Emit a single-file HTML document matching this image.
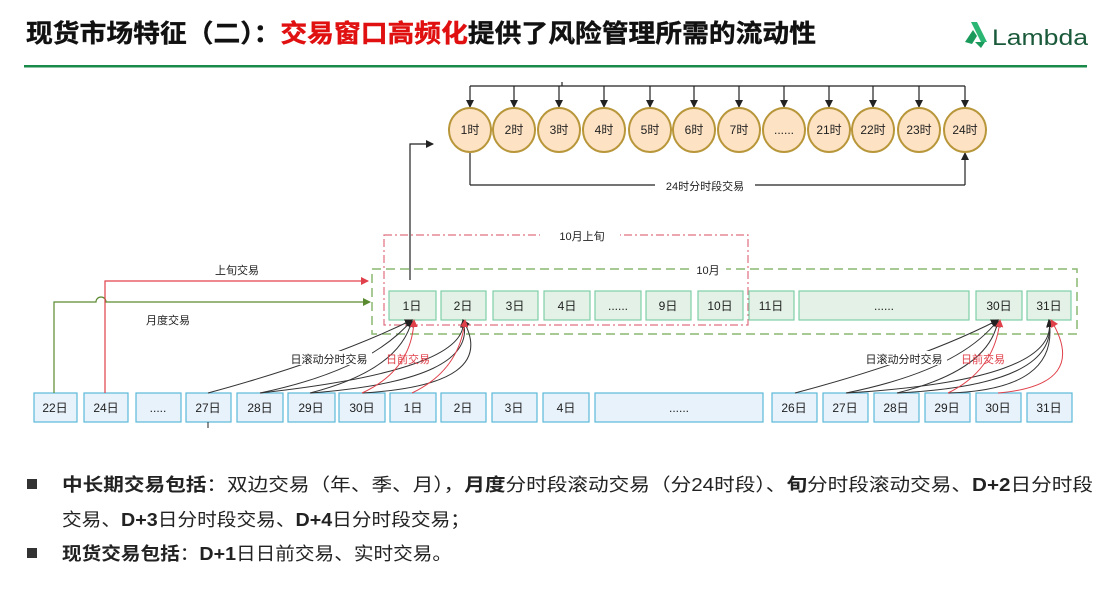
<!DOCTYPE html>
<html><head><meta charset="utf-8"><style>
body{margin:0;background:#fff;}
svg{display:block;font-family:"Liberation Sans","Noto Sans CJK SC",sans-serif;}
</style></head><body>
<svg width="1113" height="589" viewBox="0 0 1113 589" xmlns="http://www.w3.org/2000/svg">
<defs>
<marker id="ak" markerWidth="8" markerHeight="8" refX="7" refY="4" orient="auto" markerUnits="userSpaceOnUse"><path d="M0,0 L8,4 L0,8 z" fill="#222"/></marker>
<marker id="ar" markerWidth="8" markerHeight="8" refX="7" refY="4" orient="auto" markerUnits="userSpaceOnUse"><path d="M0,0 L8,4 L0,8 z" fill="#e0404a"/></marker>
<marker id="ag" markerWidth="8" markerHeight="8" refX="7" refY="4" orient="auto" markerUnits="userSpaceOnUse"><path d="M0,0 L8,4 L0,8 z" fill="#5a8a30"/></marker>
</defs>
<!-- title -->
<text x="26" y="42" font-size="25" font-weight="bold" fill="#111" textLength="790" lengthAdjust="spacingAndGlyphs" stroke="#111" stroke-width="0.4">现货市场特征（二）：<tspan fill="#e01010" stroke="#e01010">交易窗口高频化</tspan>提供了风险管理所需的流动性</text>
<g transform="translate(965,22)">
<path d="M6,0 L12,0 L22,20 L16,20 Z" fill="#2bb673"/><path d="M0,20 L8,8 L12,14 L7,22 Z" fill="#1a9a5a"/><path d="M10,20 L20,20 L16,26 Z" fill="#1a9a5a"/>
</g>
<text x="992" y="45" font-size="22" fill="#1a5a3a" textLength="96" lengthAdjust="spacingAndGlyphs">Lambda</text>
<rect x="24" y="65" width="1063" height="2.5" fill="#1a8a4a"/>

<!-- hours -->
<g stroke="#222" stroke-width="1.2" fill="none">
<line x1="470" y1="86" x2="965" y2="86"/>
<line x1="562" y1="82" x2="562" y2="86"/>
<line x1="470" y1="150" x2="470" y2="185"/>
<line x1="470" y1="185" x2="655" y2="185"/>
<line x1="755" y1="185" x2="965" y2="185"/>
<line x1="965" y1="185" x2="965" y2="153" marker-end="url(#ak)"/>
<path d="M410,280 L410,144 L433,144" marker-end="url(#ak)"/>
</g>
<text x="705" y="190" font-size="11" text-anchor="middle" fill="#222">24时分时段交易</text>
<g stroke="#222" stroke-width="1.2">
<line x1="470" y1="86" x2="470" y2="107" marker-end="url(#ak)"/><line x1="514" y1="86" x2="514" y2="107" marker-end="url(#ak)"/><line x1="559" y1="86" x2="559" y2="107" marker-end="url(#ak)"/><line x1="604" y1="86" x2="604" y2="107" marker-end="url(#ak)"/><line x1="650" y1="86" x2="650" y2="107" marker-end="url(#ak)"/><line x1="694" y1="86" x2="694" y2="107" marker-end="url(#ak)"/><line x1="739" y1="86" x2="739" y2="107" marker-end="url(#ak)"/><line x1="784" y1="86" x2="784" y2="107" marker-end="url(#ak)"/><line x1="829" y1="86" x2="829" y2="107" marker-end="url(#ak)"/><line x1="873" y1="86" x2="873" y2="107" marker-end="url(#ak)"/><line x1="919" y1="86" x2="919" y2="107" marker-end="url(#ak)"/><line x1="965" y1="86" x2="965" y2="107" marker-end="url(#ak)"/>
</g>
<g fill="#fde2c4" stroke="#b8963a" stroke-width="2">
<ellipse cx="470" cy="130" rx="21" ry="22"/><ellipse cx="514" cy="130" rx="21" ry="22"/><ellipse cx="559" cy="130" rx="21" ry="22"/><ellipse cx="604" cy="130" rx="21" ry="22"/><ellipse cx="650" cy="130" rx="21" ry="22"/><ellipse cx="694" cy="130" rx="21" ry="22"/><ellipse cx="739" cy="130" rx="21" ry="22"/><ellipse cx="784" cy="130" rx="21" ry="22"/><ellipse cx="829" cy="130" rx="21" ry="22"/><ellipse cx="873" cy="130" rx="21" ry="22"/><ellipse cx="919" cy="130" rx="21" ry="22"/><ellipse cx="965" cy="130" rx="21" ry="22"/>
</g>
<g font-size="12" text-anchor="middle" fill="#222">
<text x="470" y="134">1时</text><text x="514" y="134">2时</text><text x="559" y="134">3时</text><text x="604" y="134">4时</text><text x="650" y="134">5时</text><text x="694" y="134">6时</text><text x="739" y="134">7时</text><text x="784" y="134">......</text><text x="829" y="134">21时</text><text x="873" y="134">22时</text><text x="919" y="134">23时</text><text x="965" y="134">24时</text>
</g>

<!-- containers -->
<rect x="384" y="235" width="364" height="90" fill="none" stroke="#e07080" stroke-width="1.2" stroke-dasharray="8,3,2,3"/>
<rect x="372" y="269" width="705" height="65" fill="none" stroke="#8ab870" stroke-width="1.5" stroke-dasharray="9,5"/>
<rect x="540" y="228" width="80" height="14" fill="#fff"/>
<text x="582" y="240" font-size="11" text-anchor="middle" fill="#222">10月上旬</text>
<rect x="690" y="262" width="36" height="14" fill="#fff"/>
<text x="708" y="274" font-size="11" text-anchor="middle" fill="#222">10月</text>

<!-- top day boxes -->
<g fill="#e3f1e6" stroke="#7fcfa6" stroke-width="1.2">
<rect x="389" y="291" width="47" height="29"/><rect x="441" y="291" width="45" height="29"/><rect x="493" y="291" width="45" height="29"/><rect x="544" y="291" width="46" height="29"/><rect x="595" y="291" width="46" height="29"/><rect x="646" y="291" width="45" height="29"/><rect x="698" y="291" width="45" height="29"/><rect x="749" y="291" width="45" height="29"/><rect x="799" y="291" width="170" height="29"/><rect x="976" y="291" width="46" height="29"/><rect x="1027" y="291" width="44" height="29"/>
</g>
<g font-size="12" text-anchor="middle" fill="#222">
<text x="412" y="310">1日</text><text x="463" y="310">2日</text><text x="515" y="310">3日</text><text x="567" y="310">4日</text><text x="618" y="310">......</text><text x="668" y="310">9日</text><text x="720" y="310">10日</text><text x="771" y="310">11日</text><text x="884" y="310">......</text><text x="999" y="310">30日</text><text x="1049" y="310">31日</text>
</g>

<!-- bottom boxes -->
<g fill="#e8f2fb" stroke="#5bb8d8" stroke-width="1.2">
<rect x="34" y="393" width="43" height="29"/><rect x="84" y="393" width="44" height="29"/><rect x="136" y="393" width="45" height="29"/><rect x="186" y="393" width="45" height="29"/><rect x="237" y="393" width="46" height="29"/><rect x="288" y="393" width="47" height="29"/><rect x="339" y="393" width="46" height="29"/><rect x="390" y="393" width="46" height="29"/><rect x="441" y="393" width="45" height="29"/><rect x="492" y="393" width="45" height="29"/><rect x="543" y="393" width="46" height="29"/><rect x="595" y="393" width="168" height="29"/><rect x="772" y="393" width="45" height="29"/><rect x="823" y="393" width="45" height="29"/><rect x="874" y="393" width="45" height="29"/><rect x="925" y="393" width="45" height="29"/><rect x="976" y="393" width="45" height="29"/><rect x="1027" y="393" width="45" height="29"/>
</g>
<g font-size="12" text-anchor="middle" fill="#222">
<text x="55" y="412">22日</text><text x="106" y="412">24日</text><text x="158" y="412">.....</text><text x="208" y="412">27日</text><text x="260" y="412">28日</text><text x="311" y="412">29日</text><text x="362" y="412">30日</text><text x="413" y="412">1日</text><text x="463" y="412">2日</text><text x="514" y="412">3日</text><text x="566" y="412">4日</text><text x="679" y="412">......</text><text x="794" y="412">26日</text><text x="845" y="412">27日</text><text x="896" y="412">28日</text><text x="947" y="412">29日</text><text x="998" y="412">30日</text><text x="1049" y="412">31日</text>
</g>
<line x1="208" y1="422" x2="208" y2="428" stroke="#222"/>

<!-- monthly / dekad lines -->
<path d="M54,393 L54,302 L96,302 A5,5 0 0 1 106,302 L370,302" fill="none" stroke="#5a8a30" stroke-width="1.2" marker-end="url(#ag)"/>
<path d="M105,393 L105,281 L368,281" fill="none" stroke="#e0404a" stroke-width="1.2" marker-end="url(#ar)"/>
<text x="237" y="274" font-size="11" text-anchor="middle" fill="#222">上旬交易</text>
<text x="168" y="324" font-size="11" text-anchor="middle" fill="#222">月度交易</text>

<!-- curves -->
<g fill="none" stroke-width="1">
<g stroke="#333" marker-end="url(#ak)">
<path d="M208,393 Q330,360 412,320"/><path d="M260,393 Q370,370 412,320"/><path d="M310,393 Q400,370 412,320"/>
<path d="M260,393 Q470,370 463,320"/><path d="M310,393 Q480,380 463,320"/><path d="M362,393 Q500,385 463,320"/>
<path d="M795,393 Q920,360 998,320"/><path d="M846,393 Q960,370 998,320"/><path d="M897,393 Q990,370 998,320"/>
<path d="M846,393 Q1060,380 1049,320"/><path d="M897,393 Q1060,385 1049,320"/><path d="M948,393 Q1060,390 1049,320"/>
</g>
<g stroke="#e0404a" marker-end="url(#ar)">
<path d="M362,393 Q412,370 414,320"/><path d="M412,393 Q460,370 465,320"/>
<path d="M948,393 Q995,370 1000,320"/><path d="M998,393 Q1090,385 1051,320"/>
</g>
</g>
<rect x="286" y="351" width="86" height="14" fill="#fff"/>
<text x="329" y="363" font-size="11" text-anchor="middle" fill="#222">日滚动分时交易</text>
<text x="408" y="363" font-size="11" text-anchor="middle" fill="#e0404a">日前交易</text>
<rect x="861" y="351" width="86" height="14" fill="#fff"/>
<text x="904" y="363" font-size="11" text-anchor="middle" fill="#222">日滚动分时交易</text>
<text x="983" y="363" font-size="11" text-anchor="middle" fill="#e0404a">日前交易</text>

<!-- bullets -->
<rect x="27" y="479" width="10" height="10" fill="#333"/>
<rect x="27" y="548" width="10" height="10" fill="#333"/>
<g font-size="18" fill="#222">
<text x="62" y="491" textLength="1031" lengthAdjust="spacingAndGlyphs"><tspan font-weight="bold">中长期交易包括</tspan>：双边交易（年、季、月），<tspan font-weight="bold">月度</tspan>分时段滚动交易（分24时段）、<tspan font-weight="bold">旬</tspan>分时段滚动交易、<tspan font-weight="bold">D+2</tspan>日分时段</text>
<text x="62" y="526" textLength="408" lengthAdjust="spacingAndGlyphs">交易、<tspan font-weight="bold">D+3</tspan>日分时段交易、<tspan font-weight="bold">D+4</tspan>日分时段交易；</text>
<text x="62" y="560" textLength="390" lengthAdjust="spacingAndGlyphs"><tspan font-weight="bold">现货交易包括</tspan>：<tspan font-weight="bold">D+1</tspan>日日前交易、实时交易。</text>
</g>
</svg>
</body></html>
